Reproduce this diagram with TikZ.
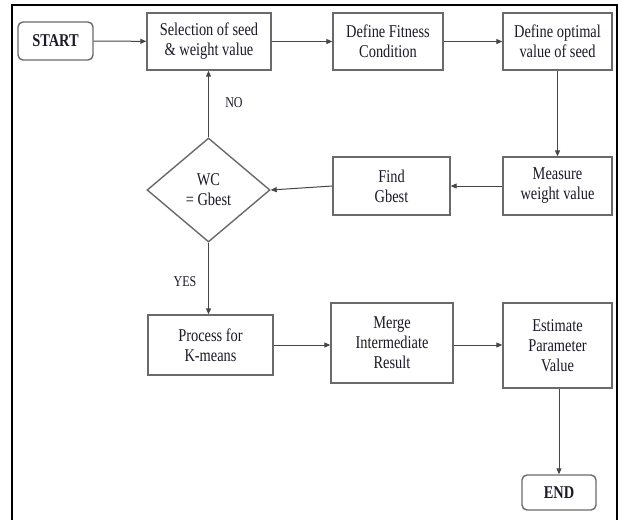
\documentclass[tikz,border=0pt]{standalone}
\usepackage{fontspec}
\setmainfont{Liberation Serif}
\newfontfamily\narrowfont[FakeStretch=0.8]{Liberation Serif}
\usetikzlibrary{shapes.geometric,arrows.meta}
\definecolor{boxline}{HTML}{6A6A6A}
\definecolor{arrowline}{HTML}{454545}
\definecolor{txt}{HTML}{1A1A28}
\tikzset{
  procbox/.style={draw=boxline, line width=1.4pt, fill=white, align=center,
    inner sep=0pt, text=txt, font=\narrowfont\fontsize{18}{20}\selectfont},
  termbox/.style={procbox, rounded corners=5pt, font=\narrowfont\bfseries\fontsize{18}{20}\selectfont},
  decbox/.style={procbox, shape=diamond, aspect=1.18},
  lbl/.style={text=txt, font=\narrowfont\fontsize{15}{17}\selectfont, inner sep=0pt},
  flow/.style={draw=arrowline, line width=1pt, -{Triangle[length=6pt,width=5pt]}}
}
\begin{document}
\begin{tikzpicture}[x=1pt,y=-1pt]
\useasboundingbox (0,0) rectangle (622,520);
\fill[white] (0,0) rectangle (622,520);
\draw[black, line width=2pt] (12,530) -- (12,5) -- (617,5) -- (617,530);

\node[termbox, minimum width=75pt, minimum height=38pt] (start) at (55.5,41) {START};
\node[procbox, minimum width=124pt, minimum height=57pt] (sel) at (209,41.5) {Selection of seed\\\& weight value};
\node[procbox, minimum width=110pt, minimum height=57pt] (fit) at (388,41.5) {Define Fitness\\Condition};
\node[procbox, minimum width=109pt, minimum height=57pt] (opt) at (557.5,41.5) {Define optimal\\value of seed};
\node[procbox, minimum width=109pt, minimum height=58pt] (meas) at (557.5,186) {Measure\\weight value};
\node[procbox, minimum width=117pt, minimum height=58pt] (find) at (391.5,186) {Find\\Gbest};
\node[decbox, minimum width=123pt, minimum height=104pt] (dia) at (208.5,190) {WC\\= Gbest};
\node[procbox, minimum width=125pt, minimum height=60pt] (proc) at (210.5,345) {Process for\\K-means};
\node[procbox, minimum width=122pt, minimum height=80pt] (merge) at (392,343) {Merge\\Intermediate\\Result};
\node[procbox, minimum width=109pt, minimum height=85pt] (est) at (557.5,345.5) {Estimate\\Parameter\\Value};
\node[termbox, minimum width=74pt, minimum height=35pt] (end) at (559,492.5) {END};

\node[lbl] (no) at (234,103) {NO};
\node[lbl] (yes) at (185,282) {YES};

\draw[flow] (start) -- (sel);
\draw[flow] (sel) -- (fit);
\draw[flow] (fit) -- (opt);
\draw[flow] (opt) -- (meas);
\draw[flow] (meas) -- (find);
\draw[flow] (find.west) -- (dia.east);
\draw[flow] (dia.north) -- (sel.south -| dia.north);
\draw[flow] (dia.south) -- (proc.north -| dia.south);
\draw[flow] (proc.east) -- (merge.west |- proc.east);
\draw[flow] (merge.east |- proc.east) -- (est.west |- proc.east);
\draw[flow] (est.south -| end.north) -- (end.north);
\end{tikzpicture}
\end{document}
